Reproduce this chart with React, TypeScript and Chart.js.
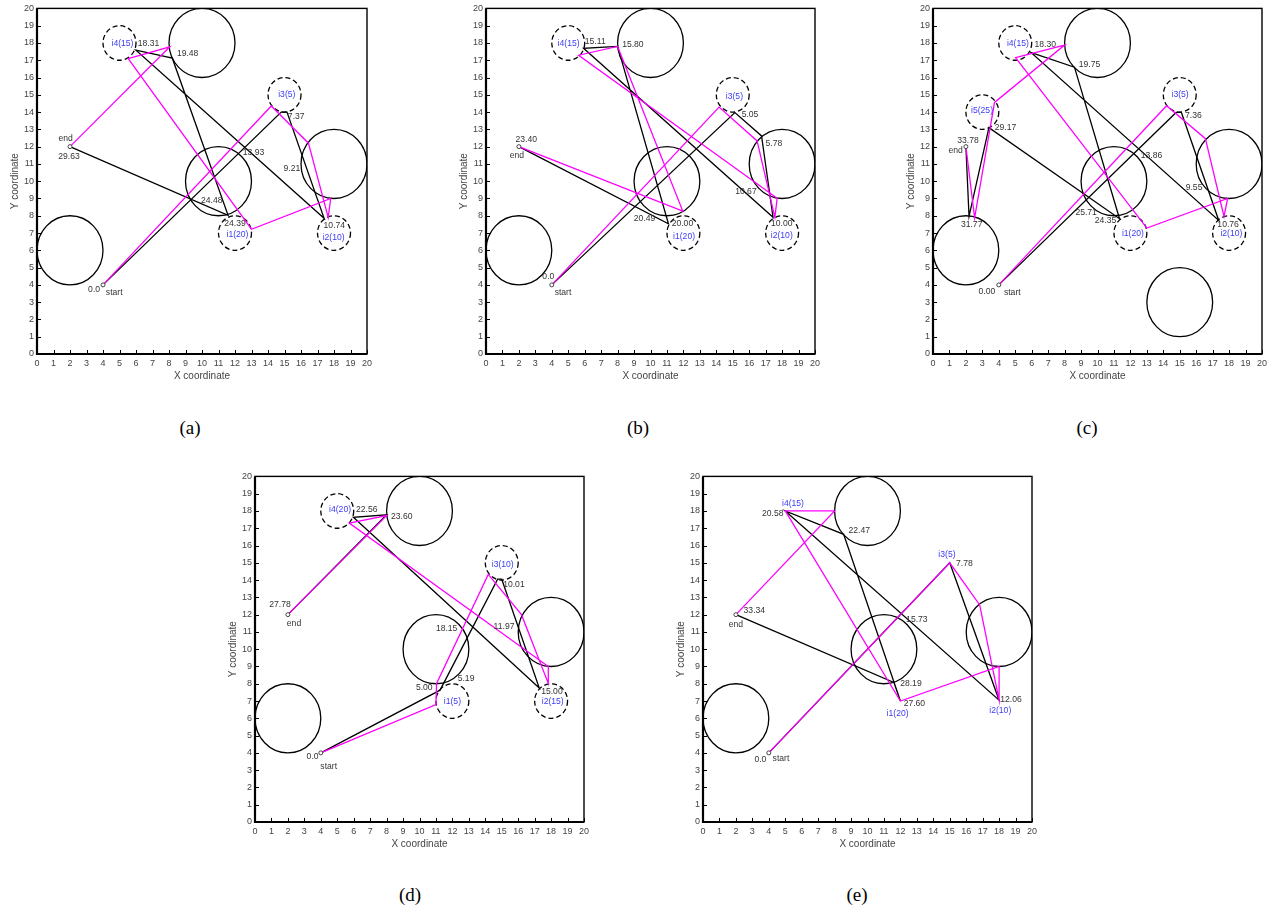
import React, { useEffect, useRef } from 'react';
import { Chart, registerables } from 'chart.js';

Chart.register(...registerables);
Chart.defaults.font.family = '"Liberation Sans", Arial, Helvetica, sans-serif';

type Pt = [number, number];
type Lbl = [string, number, number, string?];

// ---------- shared data ----------
const axisTicks = [0, 1, 2, 3, 4, 5, 6, 7, 8, 9, 10, 11, 12, 13, 14, 15, 16, 17, 18, 19, 20];
const obstacleRadius = 2;
const targetRadius = 1;
const obstacles: Pt[] = [[10, 18], [11, 10], [18, 11], [2, 6]];
const obstaclesC: Pt[] = [[10, 18], [11, 10], [18, 11], [2, 6], [15, 3]];
const targets: Pt[] = [[5, 18], [15, 15], [12, 7], [18, 7]];
const targetsC: Pt[] = [[5, 18], [15, 15], [12, 7], [18, 7], [3, 14]];
const targetsE: Pt[] = [];
const endpoints: Pt[] = [[4, 4], [2, 12]];

// ---------- panel (a) ----------
const magentaA: Pt[] = [[4, 4], [14.2, 14.35], [16.45, 12.2], [17.65, 7.9], [17.8, 9.0], [13.0, 7.22], [5.53, 17.1], [8.05, 17.78], [2, 12]];
const blackA: Pt[] = [[4, 4], [14.8, 14.0], [15.15, 14.0], [17.4, 7.85], [6.0, 17.58], [8.2, 17.12], [11.58, 8.03], [2, 12]];
const labelsA: Lbl[] = [
  ['i4(15)', 5.18, 17.96, 'b'], ['18.31', 6.76, 17.96], ['19.48', 9.13, 17.38],
  ['i3(5)', 15.14, 14.99, 'b'], ['7.37', 15.71, 13.72], ['13.93', 13.12, 11.64],
  ['9.21', 15.45, 10.71], ['end', 1.74, 12.47], ['29.63', 1.94, 11.45],
  ['24.48', 10.59, 8.86], ['24.39', 12.0, 7.55], ['i1(20)', 12.15, 6.88, 'b'],
  ['10.74', 18.02, 7.42], ['i2(10)', 17.98, 6.72, 'b'], ['0.0', 3.46, 3.7], ['start', 4.68, 3.53],
];

// ---------- panel (b) ----------
const magentaB: Pt[] = [[4, 4], [14.17, 14.29], [16.48, 12.33], [17.56, 7.91], [17.7, 9.01], [5.63, 17.29], [8.0, 17.8], [11.96, 8.27], [2, 12]];
const blackB: Pt[] = [[4, 4], [15.13, 13.97], [16.75, 12.62], [17.45, 7.91], [5.93, 17.69], [8.0, 17.8], [11.09, 7.54], [2, 12]];
const labelsB: Lbl[] = [
  ['i4(15)', 5.02, 17.96, 'b'], ['15.11', 6.64, 18.1], ['15.80', 8.93, 17.9],
  ['i3(5)', 15.1, 14.88, 'b'], ['5.05', 16.05, 13.85], ['5.78', 17.5, 12.2],
  ['10.67', 15.8, 9.4], ['10.00', 17.98, 7.54], ['i2(10)', 17.98, 6.85, 'b'],
  ['20.00', 11.94, 7.54], ['i1(20)', 12.04, 6.81, 'b'], ['20.49', 9.64, 7.83],
  ['23.40', 2.45, 12.42], ['end', 1.88, 11.48], ['0.0', 3.79, 4.46], ['start', 4.68, 3.56],
];

// ---------- panel (c) ----------
const magentaC: Pt[] = [[4, 4], [14.2, 14.37], [16.56, 12.46], [17.69, 7.96], [17.91, 9.0], [13.0, 7.29], [5.02, 17.15], [8.0, 17.88], [3.74, 14.56], [2.53, 7.88], [2, 12]];
const blackC: Pt[] = [[4, 4], [14.78, 13.98], [15.1, 13.98], [17.37, 7.73], [5.97, 17.44], [8.6, 16.6], [11.34, 7.83], [3.4, 13.1], [2.19, 7.96], [2, 12]];
const labelsC: Lbl[] = [
  ['i4(15)', 5.16, 17.96, 'b'], ['18.30', 6.82, 17.88], ['19.75', 9.51, 16.73],
  ['i5(25)', 2.98, 14.08, 'b'], ['29.17', 4.41, 13.1], ['33.78', 2.13, 12.35],
  ['end', 1.38, 11.77], ['31.77', 2.35, 7.5], ['i3(5)', 15.02, 15.0, 'b'],
  ['7.36', 15.83, 13.77], ['13.86', 13.28, 11.48], ['9.55', 15.87, 9.6],
  ['25.71', 9.31, 8.19], ['24.35', 10.49, 7.69], ['i1(20)', 12.15, 6.96, 'b'],
  ['10.76', 17.94, 7.5], ['i2(10)', 18.14, 6.96, 'b'], ['0.00', 3.28, 3.63], ['start', 4.82, 3.56],
];

// ---------- panel (d) ----------
const magentaD: Pt[] = [[4, 4], [11.0, 6.79], [11.04, 8.02], [14.18, 14.33], [16.2, 12.0], [17.83, 8.02], [17.83, 9.0], [5.73, 17.3], [8.0, 17.73], [2, 12]];
const blackD: Pt[] = [[4, 4], [11.25, 7.63], [14.75, 14.05], [15.0, 14.05], [17.28, 7.75], [5.98, 17.63], [8.0, 17.78], [2, 12]];
const labelsD: Lbl[] = [
  ['i4(20)', 5.17, 18.08, 'b'], ['22.56', 6.79, 18.08], ['23.60', 8.92, 17.69],
  ['i3(10)', 15.06, 14.9, 'b'], ['10.01', 15.74, 13.75], ['27.78', 1.52, 12.6],
  ['end', 2.37, 11.5], ['18.15', 11.65, 11.19], ['11.97', 15.14, 11.31],
  ['5.19', 12.83, 8.27], ['5.00', 10.29, 7.75], ['i1(5)', 12.0, 6.98, 'b'],
  ['15.00', 18.05, 7.56], ['i2(15)', 18.1, 6.98, 'b'], ['0.0', 3.5, 3.81], ['start', 4.48, 3.23],
];

// ---------- panel (e) ----------
const magentaE: Pt[] = [[4, 4], [15, 15], [16.82, 12.56], [18, 7.05], [18, 9.0], [12, 7.0], [5, 18], [8, 18], [2, 12]];
const blackE: Pt[] = [[4, 4], [15, 15], [18, 7.05], [5, 18], [8.55, 16.65], [12, 7.0], [11.6, 8.08], [2, 12]];
const labelsE: Lbl[] = [
  ['i4(15)', 5.47, 18.4, 'b'], ['20.58', 4.24, 17.83], ['22.47', 9.5, 16.88],
  ['i3(5)', 14.83, 15.48, 'b'], ['7.78', 15.89, 14.96], ['33.34', 3.12, 12.21],
  ['end', 2.0, 11.44], ['15.73', 13.0, 11.69], ['28.19', 12.64, 8.02],
  ['27.60', 12.85, 6.83], ['i1(20)', 11.83, 6.25, 'b'], ['12.06', 18.72, 7.08],
  ['i2(10)', 18.07, 6.44, 'b'], ['0.0', 3.49, 3.62], ['start', 4.74, 3.69],
];

// ---------- layout ----------
interface PanelCfg {
  caption: string;
  left: number; top: number; plotW: number;
  magenta: Pt[]; black: Pt[]; labels: Lbl[]; solid: Pt[]; dashed: Pt[];
  capX: number; capY: number;
}

const Y_AXIS_W = 37;
const X_AXIS_H = 30;
const PAD_TOP = 7;
const PAD_RIGHT = 13;
const PLOT_H = 347;

const panels: PanelCfg[] = [
  { caption: '(a)', left: 0, top: 0, plotW: 330, magenta: magentaA, black: blackA, labels: labelsA, solid: obstacles, dashed: targets, capX: 190, capY: 428 },
  { caption: '(b)', left: 449, top: 0, plotW: 329, magenta: magentaB, black: blackB, labels: labelsB, solid: obstacles, dashed: targets, capX: 638, capY: 428 },
  { caption: '(c)', left: 896, top: 0, plotW: 329, magenta: magentaC, black: blackC, labels: labelsC, solid: obstaclesC, dashed: targetsC, capX: 1087, capY: 428 },
  { caption: '(d)', left: 218, top: 468, plotW: 329, magenta: magentaD, black: blackD, labels: labelsD, solid: obstacles, dashed: targets, capX: 410, capY: 895 },
  { caption: '(e)', left: 666, top: 468, plotW: 329, magenta: magentaE, black: blackE, labels: labelsE, solid: obstacles, dashed: targetsE, capX: 857, capY: 895 },
];

const toXY = (pts: Pt[]) => pts.map(([x, y]) => ({ x, y }));

const decoPlugin = {
  id: 'deco',
  beforeDatasetsDraw(chart: any, _args: any, opts: any) {
    const { ctx, chartArea: ca, scales } = chart;
    const xs = scales.x, ys = scales.y;
    ctx.save();
    ctx.beginPath();
    ctx.rect(ca.left, ca.top, ca.right - ca.left, ca.bottom - ca.top);
    ctx.clip();
    ctx.strokeStyle = '#000';
    ctx.lineWidth = 1.3;
    const drawCircle = (c: Pt, r: number) => {
      const px = xs.getPixelForValue(c[0]);
      const py = ys.getPixelForValue(c[1]);
      const rx = Math.abs(xs.getPixelForValue(c[0] + r) - px);
      const ry = Math.abs(ys.getPixelForValue(c[1] + r) - py);
      ctx.beginPath();
      ctx.ellipse(px, py, rx, ry, 0, 0, Math.PI * 2);
      ctx.stroke();
    };
    ctx.setLineDash([]);
    (opts.solid as Pt[]).forEach((c) => drawCircle(c, obstacleRadius));
    ctx.setLineDash([5, 3]);
    (opts.dashed as Pt[]).forEach((c) => drawCircle(c, targetRadius));
    ctx.restore();
  },
  afterDatasetsDraw(chart: any, _args: any, opts: any) {
    const { ctx, chartArea: ca, scales } = chart;
    const xs = scales.x, ys = scales.y;
    ctx.save();
    // labels
    ctx.font = '8.6px "Liberation Sans", Arial, sans-serif';
    ctx.textAlign = 'center';
    ctx.textBaseline = 'middle';
    (opts.labels as Lbl[]).forEach(([t, x, y, k]) => {
      ctx.fillStyle = k === 'b' ? '#3c3cf5' : '#333';
      ctx.fillText(t, xs.getPixelForValue(x), ys.getPixelForValue(y));
    });
    // frame
    ctx.strokeStyle = '#000';
    ctx.lineWidth = 1.4;
    ctx.strokeRect(ca.left, ca.top, ca.right - ca.left, ca.bottom - ca.top);
    ctx.lineWidth = 2.2;
    ctx.beginPath();
    ctx.moveTo(ca.left, ca.top);
    ctx.lineTo(ca.left, ca.bottom);
    ctx.lineTo(ca.right, ca.bottom);
    ctx.stroke();
    // inward ticks
    ctx.lineWidth = 1;
    ctx.beginPath();
    xs.ticks.forEach((t: any) => {
      const p = Math.round(xs.getPixelForValue(t.value)) + 0.5;
      ctx.moveTo(p, ca.bottom);
      ctx.lineTo(p, ca.bottom - 4);
    });
    ys.ticks.forEach((t: any) => {
      const p = Math.round(ys.getPixelForValue(t.value)) + 0.5;
      ctx.moveTo(ca.left, p);
      ctx.lineTo(ca.left + 4, p);
    });
    ctx.stroke();
    ctx.restore();
  },
};

function Panel({ cfg }: { cfg: PanelCfg }) {
  const ref = useRef<HTMLCanvasElement>(null);
  const w = Y_AXIS_W + cfg.plotW + PAD_RIGHT;
  const h = PAD_TOP + PLOT_H + X_AXIS_H;
  useEffect(() => {
    const setTicks = (s: any) => { s.ticks = axisTicks.map((v) => ({ value: v })); };
    const chart = new Chart(ref.current as HTMLCanvasElement, {
      type: 'scatter',
      data: {
        datasets: [
          { label: 'endpoints', data: toXY(endpoints), showLine: false, pointRadius: 2, pointBorderColor: '#444', pointBackgroundColor: '#fff', pointBorderWidth: 1, order: -1 } as any,
          { label: 'magenta', data: toXY(cfg.magenta), showLine: true, borderColor: '#ff00ff', borderWidth: 1.3, pointRadius: 0, order: 0, fill: false } as any,
          { label: 'black', data: toXY(cfg.black), showLine: true, borderColor: '#000', borderWidth: 1.3, pointRadius: 0, order: 1, fill: false } as any,
        ],
      },
      options: {
        animation: false,
        responsive: false,
        events: [],
        layout: { padding: { left: 0, top: PAD_TOP, right: PAD_RIGHT, bottom: 0 } },
        plugins: {
          legend: { display: false },
          tooltip: { enabled: false },
          deco: { solid: cfg.solid, dashed: cfg.dashed, labels: cfg.labels },
        } as any,
        scales: {
          x: {
            type: 'linear', min: 0, max: 20,
            afterBuildTicks: setTicks,
            afterFit: (s: any) => { s.height = X_AXIS_H; },
            ticks: { color: '#444', font: { size: 9 }, padding: 4, autoSkip: false, maxRotation: 0 },
            grid: { display: false, drawTicks: false },
            border: { display: false },
            title: { display: true, text: 'X coordinate', color: '#444', font: { size: 10 }, padding: { top: 0, bottom: 2 } },
          },
          y: {
            type: 'linear', min: 0, max: 20,
            afterBuildTicks: setTicks,
            afterFit: (s: any) => { s.width = Y_AXIS_W; },
            ticks: { color: '#444', font: { size: 9 }, padding: 3, autoSkip: false },
            grid: { display: false, drawTicks: false },
            border: { display: false },
            title: { display: true, text: 'Y coordinate', color: '#444', font: { size: 10 }, padding: { top: 9, bottom: 0 } },
          },
        } as any,
      },
      plugins: [decoPlugin as any],
    });
    return () => chart.destroy();
  }, []);
  return (
    <>
      <canvas ref={ref} width={w} height={h}
        style={{ position: 'absolute', left: cfg.left, top: cfg.top, width: w, height: h }} />
      <div style={{
        position: 'absolute', left: cfg.capX - 30, top: cfg.capY - 11, width: 60, height: 22,
        lineHeight: '22px', textAlign: 'center', fontFamily: '"Liberation Serif", "Times New Roman", serif',
        fontSize: 19, color: '#000',
      }}>{cfg.caption}</div>
    </>
  );
}

export default function App() {
  return (
    <div>
      {panels.map((p) => <Panel key={p.caption} cfg={p} />)}
    </div>
  );
}
